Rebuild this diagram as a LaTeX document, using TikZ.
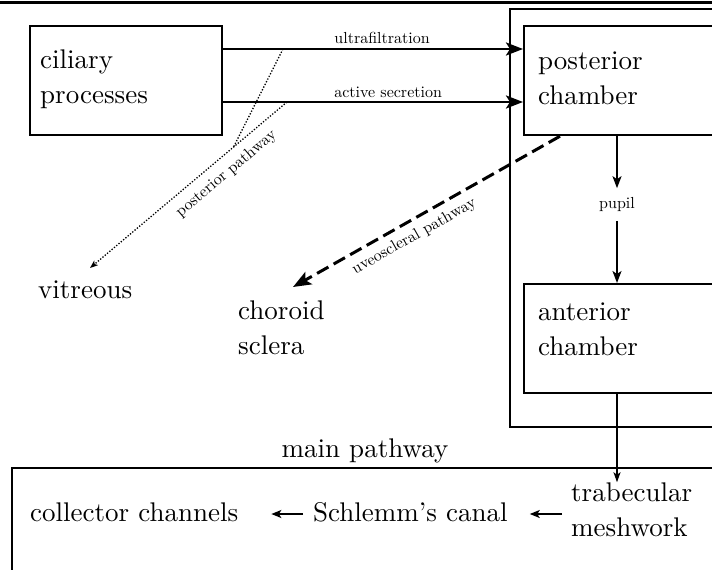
\documentclass[tikz,border=0pt]{standalone}
\usepackage{fontspec}
\setmainfont{lmroman10-regular.otf}
\usetikzlibrary{arrows.meta}
\newcommand\bigtxt{\fontsize{27}{35}\selectfont}
\newcommand\smtxt{\fontsize{16}{19}\selectfont}
\begin{document}
\begin{tikzpicture}[x=1pt,y=-1pt,
  boxst/.style={draw, line width=2.2pt, inner sep=0pt, anchor=north west},
  bigt/.style={font=\bigtxt, inner sep=0pt, align=left},
  smallt/.style={font=\smtxt},
  thickarrow/.style={line width=2.6pt, -{Stealth[length=17pt,width=13pt,inset=4pt]}},
  medarrow/.style={line width=1.8pt, -{Stealth[length=12pt,width=9pt,inset=3pt]}},
  botarrow/.style={line width=1.8pt, -{Stealth[length=10pt,width=8pt,inset=2.5pt]}},
  thinarrow/.style={line width=1.4pt, -{Stealth[length=10pt,width=7pt,inset=2.5pt]}},
  dotpath/.style={line width=1.3pt, dash pattern=on 1.3pt off 1.7pt},
  dashpath/.style={line width=3pt, dash pattern=on 13pt off 6pt},
]
\useasboundingbox (0,0) rectangle (712,570);
\clip (0,0) rectangle (712,570);
% top frame line
\draw[line width=3pt] (-10,2.5) -- (730,2.5);
% boxes
\node[boxst, line width=1.8pt, minimum width=212pt, minimum height=418pt] (outer) at (509,8) {};
\node[boxst, minimum width=192pt, minimum height=109pt] (cil) at (29,25) {};
\node[boxst, minimum width=192pt, minimum height=109pt] (post) at (523,25) {};
\node[boxst, minimum width=192pt, minimum height=109pt] (ant) at (523,283) {};
\node[boxst, minimum width=708pt, minimum height=200pt] (main) at (11,467) {};
% texts
\node[bigt, anchor=north west] (ciltxt) at (40,49.25) {ciliary\\processes};
\node[bigt, anchor=north west] (posttxt) at (538,51.9) {posterior\\chamber};
\node[bigt, anchor=north west] (anttxt) at (538,302.9) {anterior\\chamber};
\node[bigt, anchor=north west] (chor) at (238,300.25) {choroid\\sclera};
\node[bigt, anchor=base west] (vit) at (38,298) {vitreous};
\node[bigt, anchor=north west] (trab) at (571,482.25) {trabecular\\meshwork};
\node[bigt, anchor=base west] (col) at (30,521) {collector channels};
\node[bigt, anchor=base west] (sch) at (313,521) {Schlemm's canal};
\node[bigt, anchor=base] (mainlbl) at (365,457) {main pathway};
\node[smallt, inner sep=9pt] (pupil) at (617,204.5) {pupil};
% coordinates
\coordinate (vx) at (617,0);
\coordinate (rowy) at (0,514);
\coordinate (pu) at (283,49);
\coordinate (pa) at (287,102);
\coordinate (pj) at (233,148);
\coordinate (vtip) at (90,268);
\coordinate (uvt) at (293,287);
% top arrows
\draw[thickarrow] ([yshift=-24pt]cil.north east) -- node[smallt, above, inner sep=4pt, pos=0.53] (uflbl) {ultrafiltration} ([yshift=-24pt]post.north west);
\draw[thickarrow] ([yshift=-77pt]cil.north east) -- node[smallt, above, inner sep=3.5pt, pos=0.55] (aslbl) {active secretion} ([yshift=-77pt]post.north west);
% posterior pathway
\draw[dotpath] (pu) -- (pj);
\draw[dotpath, -{Stealth[length=8pt,width=6pt,inset=2pt]}] (pa) -- node[smallt, sloped, below, inner sep=8pt, pos=0.36] (pplbl) {posterior pathway} (vtip);
% uveoscleral pathway
\draw[dashpath, -{Stealth[length=18pt,width=14pt,inset=4pt]}] ([xshift=37pt]post.south west) -- node[smallt, sloped, below, inner sep=7pt, pos=0.575] (uvlbl) {uveoscleral pathway} (uvt);
% pupil
\draw[medarrow] (post.south -| vx) -- (pupil.north);
\draw[medarrow] (pupil.south) -- (ant.north -| vx);
% to trabecular meshwork
\draw[thinarrow] (ant.south -| vx) -- (vx |- trab.north);
% bottom row
\draw[botarrow, shorten <=10pt, shorten >=33pt] (sch.west |- rowy) -- (col.east |- rowy);
\draw[botarrow, shorten <=9pt, shorten >=22pt] (trab.west |- rowy) -- (sch.east |- rowy);
\end{tikzpicture}
\end{document}
